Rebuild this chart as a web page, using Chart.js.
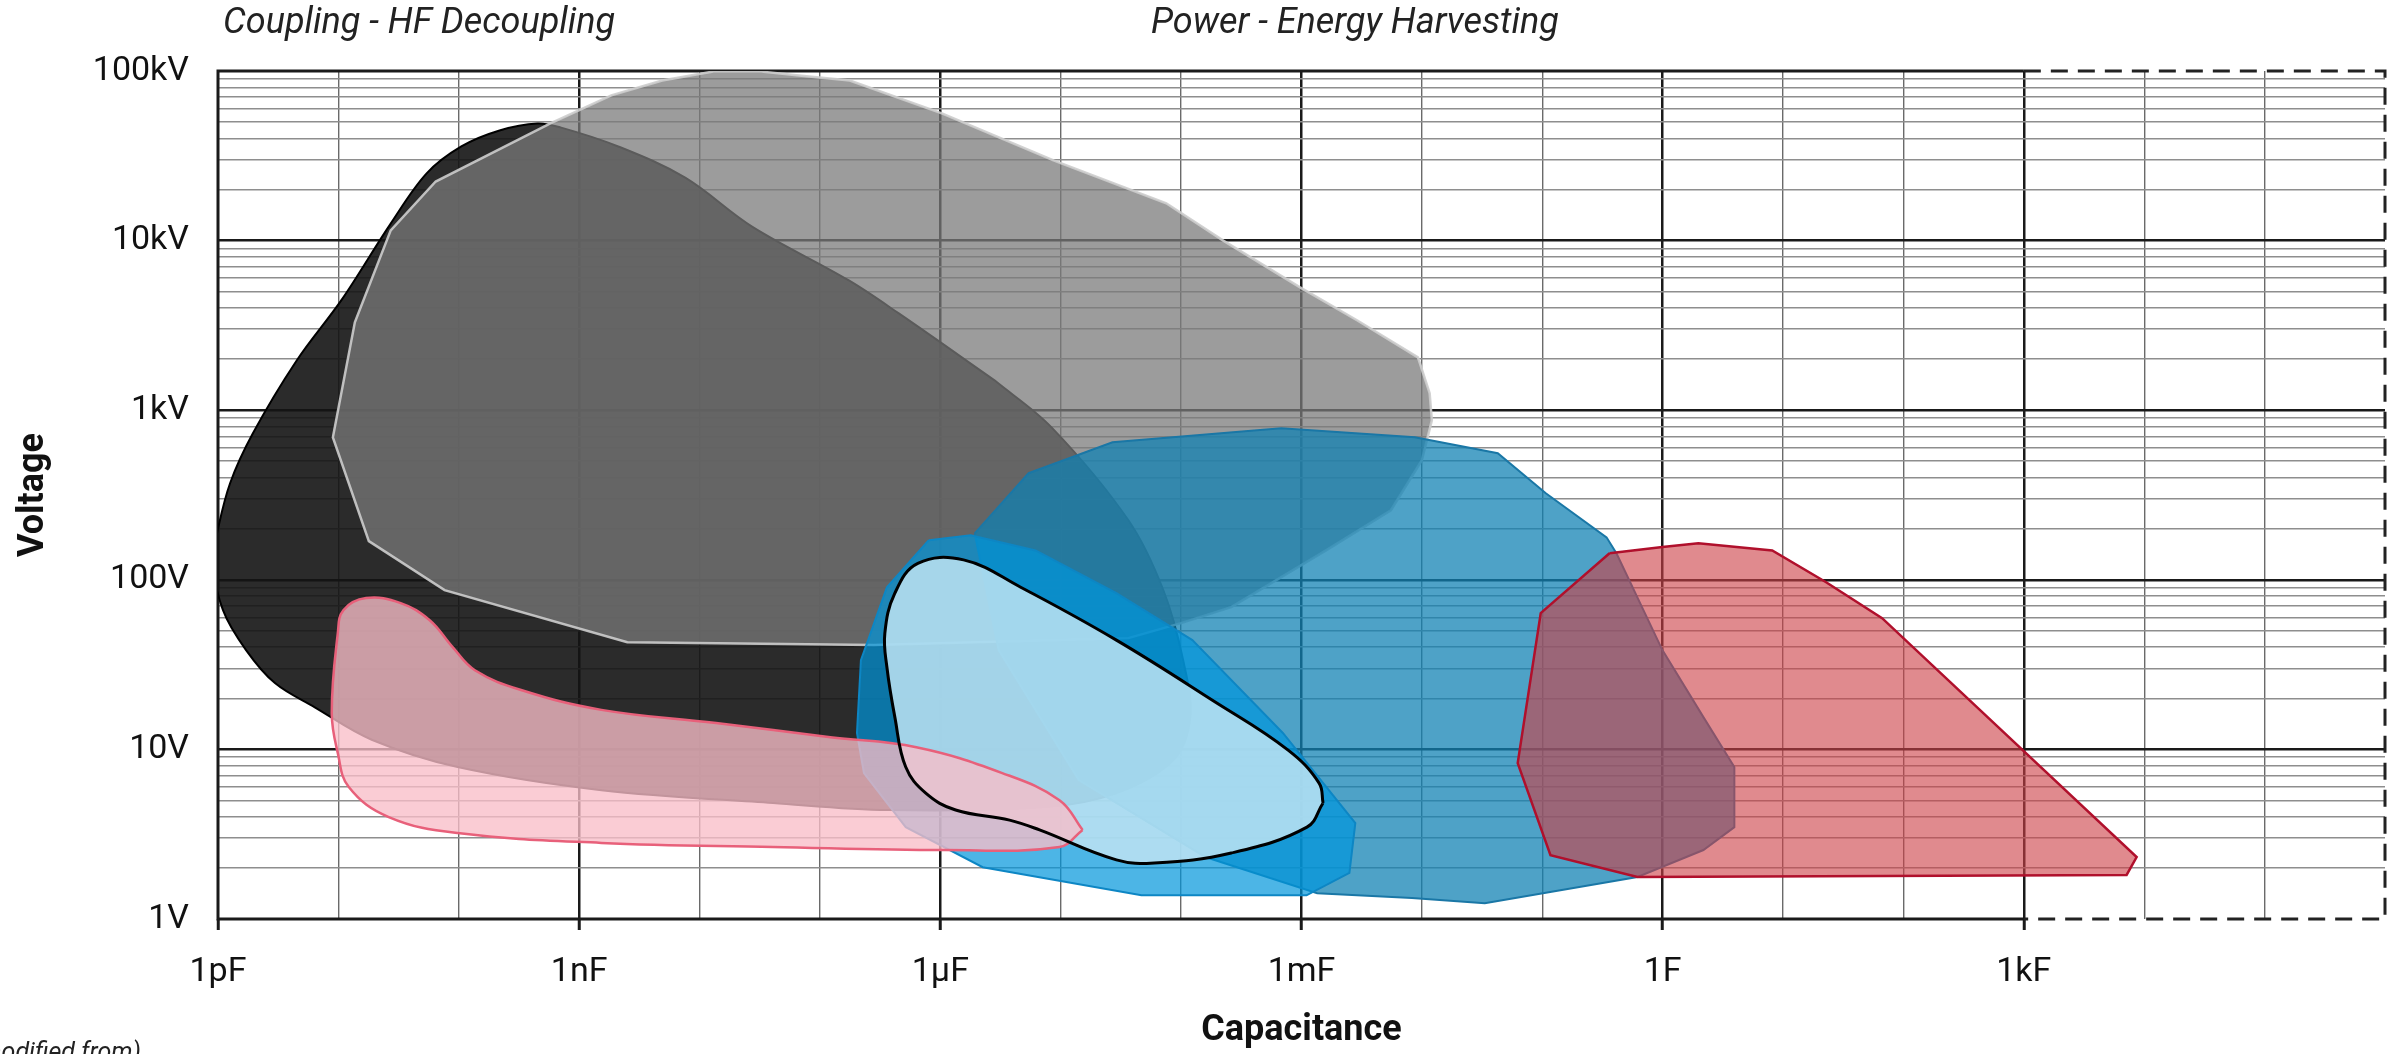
<!DOCTYPE html>
<html>
<head>
<meta charset="utf-8">
<script src="https://cdn.jsdelivr.net/npm/chart.js@4.4.0/dist/chart.umd.min.js"></script>
<style>
  html, body { margin: 0; padding: 0; background: #fff; }
</style>
</head>
<body>
<canvas id="capChart" width="2407" height="1054"></canvas>
<script>
// axis labels
const xTickExponents = [-12, -9, -6, -3, 0, 3];
const xTickLabels = ['1pF', '1nF', '1µF', '1mF', '1F', '1kF'];
const yTickLabels = ['1V', '10V', '100V', '1kV', '10kV', '100kV'];
const topNotes = ['Coupling - HF Decoupling', 'Power - Energy Harvesting'];
const footNote = '(modified from)';

// outlines of each technology region, [capacitance F, voltage V]
const blackShape = [
    [2.82e-6, 1500], [8.39e-6, 792], [3.65e-5, 224], [7.11e-5, 86.9], [1.04e-4, 33.6],
    [1.19e-4, 15.5], [8.61e-5, 8.65], [2.90e-5, 5.52], [7.62e-6, 4.57], [3.66e-7, 4.39],
    [4.07e-8, 4.83], [1.53e-9, 5.75], [9.77e-11, 7.87], [1.89e-11, 11.4], [6.37e-12, 17.7],
    [2.97e-12, 24.6], [1.71e-12, 38.5], [1.10e-12, 66.2], [0.9e-12, 131], [0.98e-12, 188],
    [1.26e-12, 371], [1.95e-12, 731], [4.52e-12, 1970], [1.07e-11, 4500], [2.72e-11, 12600],
    [5.41e-11, 24900], [1.05e-10, 35900], [2.18e-10, 44600], [4.50e-10, 49000], [6.98e-10, 46500],
    [2.11e-9, 35900], [7.60e-9, 23500], [2.73e-8, 12100], [1.74e-7, 5820], [4.52e-7, 3720]
];
const grayShape = [
    [5.77e-10, 49100], [1.85e-9, 71800], [4.90e-9, 87900], [1.30e-8, 99300], [3.12e-8, 99500],
    [6.70e-8, 94000], [1.77e-7, 87900], [1.03e-6, 56200], [8.71e-6, 29700], [7.53e-5, 16600],
    [2.24e-4, 10000], [9.73e-4, 5300], [2.89e-3, 3390], [9.27e-3, 2050], [1.16e-2, 1260],
    [1.21e-2, 872], [1.0e-2, 507], [5.53e-3, 257], [1.60e-3, 149], [2.61e-4, 69],
    [1.0e-4, 55.5], [3.65e-5, 45.3], [2.81e-7, 41.2], [2.51e-9, 42.9], [7.62e-11, 86.9],
    [1.79e-11, 169], [9.0e-12, 692], [1.37e-11, 3300], [2.72e-11, 11500], [6.43e-11, 22300]
];
const steelBlueShape = [
    [1.93e-6, 188], [5.41e-6, 425], [2.69e-5, 647], [6.78e-4, 782], [8.75e-3, 692],
    [4.27e-2, 557], [0.107, 324], [0.342, 178], [0.414, 143], [0.995, 38.5],
    [2.18, 15.5], [3.94, 7.87], [3.94, 3.48], [2.18, 2.55], [0.618, 1.77],
    [3.33e-2, 1.24], [8.26e-3, 1.33], [1.35e-3, 1.42], [1.59e-4, 2.32], [1.41e-5, 6.59],
    [3.05e-6, 38.5]
];
const brightBlueShape = [
    [8.02e-7, 171], [1.79e-6, 183], [6.18e-6, 149], [2.90e-5, 83.4], [1.24e-4, 44.1],
    [7.0e-4, 12.5], [2.8e-3, 3.68], [2.5e-3, 1.87], [1.1e-3, 1.38], [4.68e-5, 1.38],
    [2.25e-6, 2.02], [5.16e-7, 3.48], [2.32e-7, 7.25], [2.03e-7, 12.5], [2.19e-7, 33.6],
    [3.60e-7, 90.4]
];
const lightBlueShape = [
    [1.51e-3, 4.83], [1.11e-3, 3.48], [2.61e-4, 2.45], [6.0e-5, 2.14], [2.90e-5, 2.23],
    [6.67e-6, 3.35], [3.76e-6, 3.83], [1.34e-6, 4.39], [7.57e-7, 5.52], [5.16e-7, 7.87],
    [4.19e-7, 15.5], [3.60e-7, 30.5], [3.46e-7, 48.4], [4.19e-7, 83.4], [6.50e-7, 125],
    [1.56e-6, 131], [4.65e-6, 90.4], [2.90e-5, 44.1], [1.82e-4, 19.5], [7.74e-4, 9.91],
    [1.40e-3, 6.33]
];
const pinkShape = [
    [1.52e-5, 3.35], [9.77e-6, 2.66], [1.09e-6, 2.55], [4.07e-8, 2.66], [1.53e-9, 2.81],
    [9.77e-11, 3.21], [2.62e-11, 3.99], [1.22e-11, 6.0], [9.89e-12, 9.51], [8.81e-12, 16.4],
    [9.89e-12, 48.4], [1.10e-11, 66.2], [1.70e-11, 78], [3.29e-11, 72.8], [5.73e-11, 57.8],
    [8.89e-11, 40.1], [1.36e-10, 29.3], [3.29e-10, 22.4], [1.53e-9, 17.1], [1.37e-8, 14.3],
    [1.22e-7, 11.8], [6.32e-7, 10.3], [3.27e-6, 7.25], [9.77e-6, 5.02]
];
const redShape = [
    [0.362, 143.5], [0.995, 156], [1.98, 164], [8.13, 149], [22.8, 96.8],
    [66.5, 59.4], [8650, 2.32], [7140, 1.82], [0.618, 1.77], [0.117, 2.38],
    [0.0625, 8.30], [0.0971, 63.6]
];

function closed(shape) {
    const pts = shape.map(p => ({ x: p[0], y: p[1] }));
    pts.push({ ...pts[0] });
    return pts;
}

function decade(v) {
    return Math.round(Math.log10(v));
}

function isDecade(v) {
    return Math.abs(Math.log10(v) - decade(v)) < 1e-6;
}

function region(shape, fill, stroke, width, tension, order) {
    return {
        data: closed(shape),
        showLine: true,
        fill: fill ? 'shape' : false,
        backgroundColor: fill || 'transparent',
        borderColor: stroke,
        borderWidth: width,
        tension: tension,
        pointRadius: 0,
        pointHoverRadius: 0,
        order: order
    };
}

const framePlugin = {
    id: 'frame',
    beforeDatasetsDraw(chart) {
        const { ctx, chartArea: a, scales: { x } } = chart;
        const split = x.getPixelForValue(1e3);
        ctx.save();
        ctx.strokeStyle = '#1a1a1a';
        ctx.lineWidth = 3;
        ctx.beginPath();
        ctx.moveTo(split, a.top);
        ctx.lineTo(a.left, a.top);
        ctx.lineTo(a.left, a.bottom);
        ctx.lineTo(split, a.bottom);
        ctx.stroke();
        ctx.setLineDash([17, 10]);
        ctx.strokeStyle = '#222';
        ctx.lineWidth = 3;
        ctx.beginPath();
        ctx.moveTo(split, a.top);
        ctx.lineTo(a.right, a.top);
        ctx.lineTo(a.right, a.bottom);
        ctx.lineTo(split, a.bottom);
        ctx.stroke();
        ctx.restore();
    },
    afterDraw(chart) {
        const ctx = chart.ctx;
        ctx.save();
        ctx.fillStyle = '#222';
        ctx.font = 'italic 36px Roboto';
        ctx.textBaseline = 'middle';
        ctx.textAlign = 'left';
        ctx.fillText(topNotes[0], 223, 24, 399);
        ctx.fillText(topNotes[1], 1151, 24, 415);
        ctx.font = 'italic 25px Roboto';
        ctx.textAlign = 'right';
        ctx.textBaseline = 'alphabetic';
        ctx.fillText(footNote, 141, 1060);
        ctx.restore();
    }
};

const xTicks = [];
for (let e = -12; e <= 6; e++) xTicks.push(Math.pow(10, e));
const yTicks = [];
for (let e = 0; e < 5; e++) {
    for (let m = 1; m <= 9; m++) yTicks.push(Number((m * Math.pow(10, e)).toPrecision(3)));
}
yTicks.push(1e5);

const tickFont = { family: 'Roboto', size: 34 };
const titleFont = { family: 'Roboto', size: 36, weight: 'bold' };

new Chart('capChart', {
    type: 'scatter',
    data: {
        datasets: [
            region(blackShape, 'rgba(20,20,20,0.9)', '#000', 2, 0.35, 8),
            region(grayShape, 'rgba(122,122,122,0.745)', 'rgba(205,205,205,0.9)', 2.5, 0, 7),
            region(steelBlueShape, 'rgba(16,130,180,0.74)', '#1a77a6', 2, 0, 6),
            region(brightBlueShape, 'rgba(0,150,220,0.7)', '#0d86c4', 2, 0, 5),
            region(lightBlueShape, 'rgba(190,228,243,0.85)', 'transparent', 0, 0.4, 4),
            region(pinkShape, 'rgba(248,190,200,0.78)', '#e8607a', 2.5, 0.4, 3),
            region(lightBlueShape, null, '#000', 3, 0.4, 2),
            region(redShape, 'rgba(204,64,71,0.61)', '#b0102c', 2.5, 0, 1)
        ]
    },
    options: {
        responsive: false,
        animation: false,
        layout: { padding: { left: 0, right: 19, top: 71, bottom: 0 } },
        plugins: {
            legend: { display: false },
            tooltip: { enabled: false }
        },
        scales: {
            x: {
                type: 'logarithmic',
                min: 1e-12,
                max: 1e6,
                afterBuildTicks: scale => { scale.ticks = xTicks.map(v => ({ value: v })); },
                afterFit: scale => { scale.height = 135; },
                border: { display: false },
                grid: {
                    drawTicks: true,
                    tickLength: 11,
                    tickWidth: 3,
                    tickColor: c => xTickExponents.includes(decade(c.tick.value)) ? '#1a1a1a' : 'transparent',
                    color: c => {
                        const e = decade(c.tick.value);
                        if (e === -12 || e === 6) return 'transparent';
                        return e % 3 === 0 ? '#1a1a1a' : '#6a6a6a';
                    },
                    lineWidth: c => decade(c.tick.value) % 3 === 0 ? 2.5 : 1.4
                },
                ticks: {
                    autoSkip: false,
                    maxRotation: 0,
                    padding: 22,
                    color: '#111',
                    font: tickFont,
                    callback: v => {
                        const i = xTickExponents.indexOf(decade(v));
                        return i >= 0 ? xTickLabels[i] : '';
                    }
                },
                title: {
                    display: true,
                    text: 'Capacitance',
                    color: '#111',
                    font: titleFont,
                    padding: { top: 0, bottom: 1 }
                }
            },
            y: {
                type: 'logarithmic',
                min: 1,
                max: 1e5,
                afterBuildTicks: scale => { scale.ticks = yTicks.map(v => ({ value: v })); },
                afterFit: scale => { scale.width = 218; },
                border: { display: false },
                grid: {
                    drawTicks: false,
                    color: c => {
                        const v = c.tick.value;
                        if (v === 1 || v === 1e5) return 'transparent';
                        return isDecade(v) ? '#1a1a1a' : '#8e8e8e';
                    },
                    lineWidth: c => isDecade(c.tick.value) ? 2.5 : 1.6
                },
                ticks: {
                    autoSkip: false,
                    padding: 29,
                    color: '#111',
                    font: tickFont,
                    callback: v => isDecade(v) ? yTickLabels[decade(v)] : ''
                },
                title: {
                    display: true,
                    text: 'Voltage',
                    color: '#111',
                    font: titleFont,
                    padding: { top: 12, bottom: 0 }
                }
            }
        }
    },
    plugins: [framePlugin]
});
</script>
</body>
</html>
